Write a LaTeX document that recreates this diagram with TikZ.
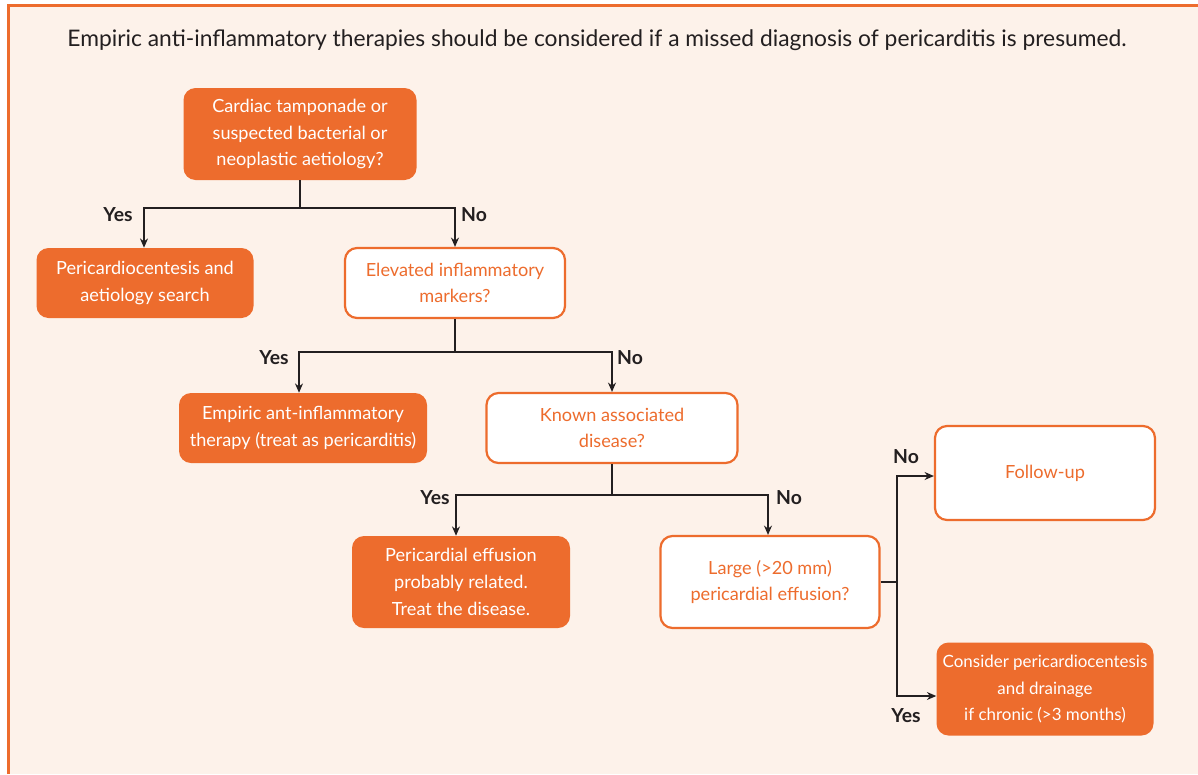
\documentclass[tikz,border=0pt]{standalone}
\usepackage{fontspec}
\setmainfont{Lato}
\usepackage{tikz}
\usetikzlibrary{arrows.meta}
\definecolor{escorange}{RGB}{237,108,45}
\definecolor{escpeach}{RGB}{253,242,234}
\definecolor{escdark}{RGB}{35,31,32}
\newcommand{\boxcolor}{escorange}
\newcommand{\px}{0.75pt}
\newcommand{\thickness}{2.2*\px}

\begin{document}
\begin{tikzpicture}[x=\px, y=-\px,
  filledbox/.style={fill=\boxcolor, rounded corners=12*\px, text=white, align=center,
    font=\fontsize{13.6}{20}\selectfont, inner sep=0pt},
  openbox/.style={draw=\boxcolor, line width=\thickness, fill=white, rounded corners=12*\px,
    text=\boxcolor, align=center, font=\fontsize{13.6}{20}\selectfont, inner sep=0pt},
  arr/.style={draw=escdark, line width=1.1*\px, -{Stealth[length=7pt, width=6pt]}},
  lbl/.style={font=\fontsize{14.5}{16}\selectfont\bfseries, text=escdark}]
\useasboundingbox (0,0) rectangle (1198,774);
\fill[escpeach] (8,5) rectangle (1198,774);
\draw[\boxcolor, line width=2.5*\px] (8.5,774) -- (8.5,5.5) -- (1198,5.5);

\node[font=\fontsize{17.1}{20}\selectfont, text=escdark] (0) at (597,40)
  {Empiric anti-inflammatory therapies should be considered if a missed diagnosis of pericarditis is presumed.};

\node[filledbox, minimum width=233*\px, minimum height=92*\px] (1) at (300,134)
  {Cardiac tamponade or\\suspected bacterial or\\neoplastic aetiology?};
\node[filledbox, minimum width=217*\px, minimum height=70*\px] (2) at (145,283)
  {Pericardiocentesis and\\aetiology search};
\node[openbox, minimum width=220*\px, minimum height=70*\px] (3) at (455,283)
  {Elevated inflammatory\\markers?};
\node[filledbox, minimum width=248*\px, minimum height=70*\px] (4) at (303,428)
  {Empiric ant-inflammatory\\therapy (treat as pericarditis)};
\node[openbox, minimum width=251*\px, minimum height=70*\px] (5) at (612,428)
  {Known associated\\disease?};
\node[filledbox, minimum width=218*\px, minimum height=92*\px] (6) at (461,582)
  {Pericardial effusion\\probably related.\\Treat the disease.};
\node[openbox, minimum width=219*\px, minimum height=92*\px] (7) at (770,582)
  {Large (>20 mm)\\pericardial effusion?};
\node[openbox, minimum width=220*\px, minimum height=94*\px] (8) at (1045,473)
  {Follow-up};
\node[filledbox, minimum width=217*\px, minimum height=93*\px,
  font=\fontsize{12.7}{20}\selectfont] (9) at (1045,689)
  {Consider pericardiocentesis\\and drainage\\if chronic (>3 months)};

%junctions
\coordinate (j1) at (300,208);
\coordinate (j3) at (455,352);
\coordinate (j5) at (612,495);
\coordinate (j7) at (897,582);

\draw[arr] (1.south) -- (j1) -| (2.north -| 144,0);
\draw[arr] (j1) -| (3.north);
\draw[arr] (3.south) -- (j3) -| (4.north -| 299,0);
\draw[arr] (j3) -| (5.north);
\draw[arr] (5.south) -- (j5) -| (6.north -| 456,0);
\draw[arr] (j5) -| (7.north -| 768,0);
\draw[arr] (7.east) -- (j7) |- (8.west |- 0,476);
\draw[arr] (j7) |- (9.west |- 0,696);

\node[lbl] (y1) at (118,215) {Yes};
\node[lbl] (n1) at (474,215) {No};
\node[lbl] (y3) at (274,358) {Yes};
\node[lbl] (n3) at (630,358) {No};
\node[lbl] (y5) at (435,498) {Yes};
\node[lbl] (n5) at (789,498) {No};
\node[lbl] (n7) at (906,457) {No};
\node[lbl] (y7) at (906,716) {Yes};
\end{tikzpicture}
\end{document}
